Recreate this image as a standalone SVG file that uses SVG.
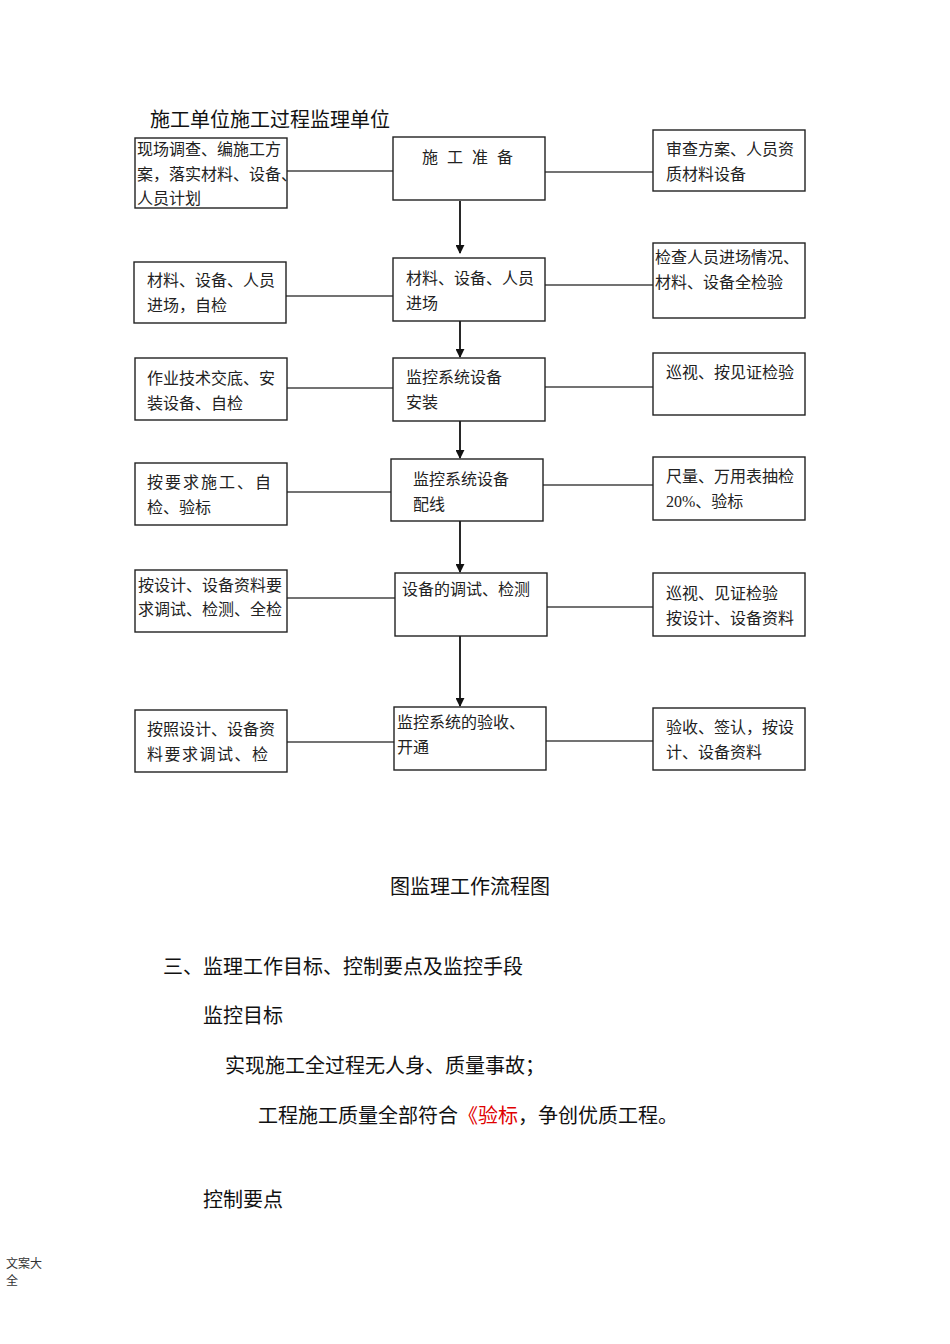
<svg xmlns="http://www.w3.org/2000/svg" width="950" height="1344" viewBox="0 0 950 1344">
<defs>
<style>
.box{fill:#fff;stroke:#222;stroke-width:1.4}
.bt{font-family:"Liberation Serif","Noto Sans CJK SC",serif;font-size:16px;fill:#222}
.ln{stroke:#444;stroke-width:1.4;fill:none}
.ar{stroke:#111;stroke-width:1.8;fill:none;marker-end:url(#ah)}
.tx{font-family:"Noto Sans CJK SC","Liberation Sans",sans-serif;fill:#111;font-size:20px}
.ft{font-family:"Noto Sans CJK SC","Liberation Sans",sans-serif;fill:#333;font-size:12px}
</style>
<marker id="ah" viewBox="0 0 10 10" refX="9" refY="5" markerWidth="5" markerHeight="5" orient="auto" markerUnits="strokeWidth">
<path d="M0,0 L10,5 L0,10 z" fill="#111"/>
</marker>
</defs>
<rect width="950" height="1344" fill="#fff"/>
<text class="tx" x="150" y="127">施工单位施工过程监理单位</text>

<g id="connectors">
<line class="ln" x1="287" y1="171" x2="393" y2="171"/>
<line class="ln" x1="545" y1="172" x2="653" y2="172"/>
<line class="ln" x1="286" y1="296" x2="393" y2="296"/>
<line class="ln" x1="545" y1="285" x2="653" y2="285"/>
<line class="ln" x1="287" y1="388" x2="393" y2="388"/>
<line class="ln" x1="545" y1="387" x2="653" y2="387"/>
<line class="ln" x1="287" y1="492" x2="391" y2="492"/>
<line class="ln" x1="543" y1="485" x2="653" y2="485"/>
<line class="ln" x1="287" y1="598" x2="395" y2="598"/>
<line class="ln" x1="547" y1="607" x2="653" y2="607"/>
<line class="ln" x1="287" y1="742" x2="394" y2="742"/>
<line class="ln" x1="546" y1="741" x2="653" y2="741"/>
<line class="ar" x1="460" y1="201" x2="460" y2="253"/>
<line class="ar" x1="460" y1="321" x2="460" y2="357"/>
<line class="ar" x1="460" y1="421" x2="460" y2="458"/>
<line class="ar" x1="460" y1="521" x2="460" y2="572"/>
<line class="ar" x1="460" y1="636" x2="460" y2="706"/>
</g>

<g id="L1"><rect class="box" x="135" y="138" width="152" height="70"/>
<text class="bt" x="137" y="155">现场调查、编施工方</text><text class="bt" x="137" y="180">案，落实材料、设备、</text><text class="bt" x="137" y="204">人员计划</text></g>
<g id="L2"><rect class="box" x="134" y="262" width="152" height="61"/>
<text class="bt" x="147" y="286">材料、设备、人员</text><text class="bt" x="147" y="311">进场，自检</text></g>
<g id="L3"><rect class="box" x="135" y="358" width="152" height="62"/>
<text class="bt" x="147" y="384">作业技术交底、安</text><text class="bt" x="147" y="409">装设备、自检</text></g>
<g id="L4"><rect class="box" x="135" y="463" width="152" height="62"/>
<text class="bt" x="147" y="488" letter-spacing="2">按要求施工、自</text><text class="bt" x="147" y="513">检、验标</text></g>
<g id="L5"><rect class="box" x="135" y="570" width="152" height="62"/>
<text class="bt" x="138" y="591">按设计、设备资料要</text><text class="bt" x="138" y="615">求调试、检测、全检</text></g>
<g id="L6"><rect class="box" x="135" y="710" width="152" height="62"/>
<text class="bt" x="147" y="735">按照设计、设备资</text><text class="bt" x="147" y="760" letter-spacing="1.5">料要求调试、检</text></g>

<g id="C1"><rect class="box" x="393" y="137" width="152" height="63"/>
<text class="bt" x="422" y="163" letter-spacing="9">施工准备</text></g>
<g id="C2"><rect class="box" x="393" y="258" width="152" height="63"/>
<text class="bt" x="406" y="284">材料、设备、人员</text><text class="bt" x="406" y="309">进场</text></g>
<g id="C3"><rect class="box" x="393" y="358" width="152" height="63"/>
<text class="bt" x="406" y="383">监控系统设备</text><text class="bt" x="406" y="408">安装</text></g>
<g id="C4"><rect class="box" x="391" y="459" width="152" height="62"/>
<text class="bt" x="413" y="485">监控系统设备</text><text class="bt" x="413" y="510">配线</text></g>
<g id="C5"><rect class="box" x="395" y="573" width="152" height="63"/>
<text class="bt" x="402" y="595">设备的调试、检测</text></g>
<g id="C6"><rect class="box" x="394" y="707" width="152" height="63"/>
<text class="bt" x="397" y="728">监控系统的验收、</text><text class="bt" x="397" y="753">开通</text></g>

<g id="R1"><rect class="box" x="653" y="130" width="152" height="61"/>
<text class="bt" x="666" y="155">审查方案、人员资</text><text class="bt" x="666" y="180">质材料设备</text></g>
<g id="R2"><rect class="box" x="653" y="243" width="152" height="75"/>
<text class="bt" x="655" y="263">检查人员进场情况、</text><text class="bt" x="655" y="288">材料、设备全检验</text></g>
<g id="R3"><rect class="box" x="653" y="353" width="152" height="62"/>
<text class="bt" x="666" y="378">巡视、按见证检验</text></g>
<g id="R4"><rect class="box" x="653" y="457" width="152" height="63"/>
<text class="bt" x="666" y="482">尺量、万用表抽检</text><text class="bt" x="666" y="507">20%、验标</text></g>
<g id="R5"><rect class="box" x="653" y="573" width="152" height="63"/>
<text class="bt" x="666" y="599">巡视、见证检验</text><text class="bt" x="666" y="624">按设计、设备资料</text></g>
<g id="R6"><rect class="box" x="653" y="708" width="152" height="62"/>
<text class="bt" x="666" y="733">验收、签认，按设</text><text class="bt" x="666" y="758">计、设备资料</text></g>

<text class="tx" x="470" y="894" text-anchor="middle">图监理工作流程图</text>
<text class="tx" x="163" y="974">三、监理工作目标、控制要点及监控手段</text>
<text class="tx" x="203" y="1023">监控目标</text>
<text class="tx" x="225" y="1073">实现施工全过程无人身、质量事故；</text>
<text class="tx" x="258" y="1123">工程施工质量全部符合<tspan fill="#e00000">《验标</tspan>，争创优质工程。</text>
<text class="tx" x="203" y="1207">控制要点</text>
<text class="ft" x="6" y="1268">文案大</text>
<text class="ft" x="6" y="1285">全</text>
</svg>
